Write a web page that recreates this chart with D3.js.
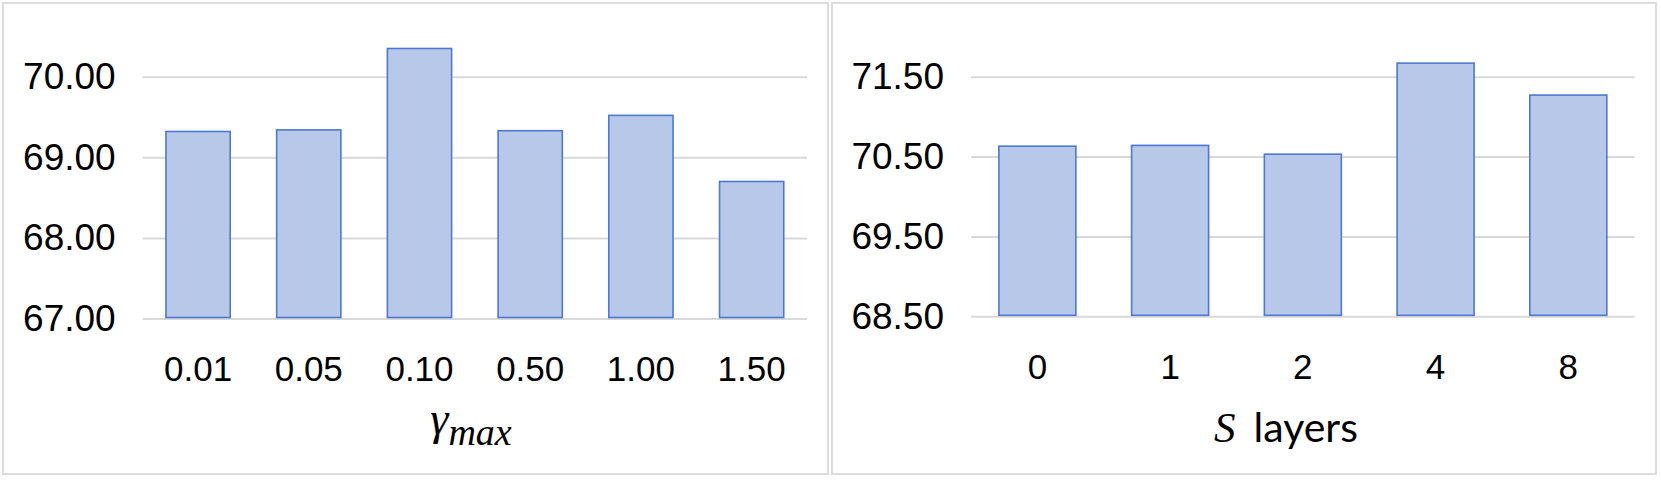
<!DOCTYPE html>
<html>
<head>
<meta charset="utf-8">
<script src="https://cdn.jsdelivr.net/npm/d3@7"></script>
<style>
  html, body { margin: 0; padding: 0; background: #fff; }
  svg { display: block; }
</style>
</head>
<body>
<svg id="chart" width="1661" height="483"></svg>
<script>
// ---- data ----
const gammaCategories = ["0.01", "0.05", "0.10", "0.50", "1.00", "1.50"];
const gammaValues = [69.32, 69.34, 70.35, 69.33, 69.52, 68.70];
const gammaTicks = [67, 68, 69, 70];

const layerCategories = ["0", "1", "2", "4", "8"];
const layerValues = [70.63, 70.64, 70.53, 71.67, 71.27];
const layerTicks = [68.5, 69.5, 70.5, 71.5];

// ---- style ----
const FILL = "#b7c8e9";
const STROKE = "#4d78d5";
const GRID = "#d9d9d9";
const BORDER = "#dcdcdc";
const SANS = "'Liberation Sans', Arial, Helvetica, sans-serif";
const SERIF = "'Liberation Serif', 'DejaVu Serif', serif";

const svg = d3.select("#chart");

function panel(opts) {
  const g = svg.append("g");
  // panel border
  g.append("rect")
    .attr("x", opts.box[0]).attr("y", opts.box[1])
    .attr("width", opts.box[2]).attr("height", opts.box[3])
    .attr("fill", "#fff").attr("stroke", BORDER).attr("stroke-width", 2);

  const x = d3.scaleBand()
    .domain(opts.categories)
    .range([opts.x0, opts.x1])
    .paddingInner(0.42)
    .paddingOuter(0.21);
  const y = d3.scaleLinear()
    .domain(opts.yDomain)
    .range([opts.yBottom, opts.yTop]);

  // y axis with gridlines
  const yAxis = d3.axisLeft(y)
    .tickValues(opts.ticks)
    .tickFormat(d3.format(".2f"))
    .tickSize(-(opts.x1 - opts.x0))
    .tickPadding(27);
  const ya = g.append("g")
    .attr("transform", `translate(${opts.x0},0)`)
    .call(yAxis);
  ya.select(".domain").remove();
  ya.selectAll(".tick line").attr("stroke", GRID).attr("stroke-width", 2);
  ya.selectAll(".tick text")
    .attr("fill", "#000")
    .style("font-family", SANS)
    .style("font-size", "37px");

  // bars
  g.append("g").selectAll("rect")
    .data(opts.values)
    .join("rect")
    .attr("x", (d, i) => x(opts.categories[i]))
    .attr("y", d => y(d))
    .attr("width", x.bandwidth())
    .attr("height", d => y(opts.yDomain[0]) - y(d) - 1)
    .attr("fill", FILL)
    .attr("stroke", STROKE)
    .attr("stroke-width", 1.6);

  // x axis
  const xAxis = d3.axisBottom(x).tickSize(0).tickPadding(38);
  const xa = g.append("g")
    .attr("transform", `translate(0,${opts.yBottom})`)
    .call(xAxis);
  xa.select(".domain").remove();
  xa.selectAll(".tick text")
    .attr("fill", "#000")
    .style("font-family", SANS)
    .style("font-size", "35px");

  return g;
}

const left = panel({
  box: [3, 3, 825, 471],
  categories: gammaCategories, values: gammaValues, ticks: gammaTicks,
  x0: 142.7, x1: 807, yDomain: [67, 70], yBottom: 318.5, yTop: 76.7
});
const right = panel({
  box: [832, 3, 824, 471],
  categories: layerCategories, values: layerValues, ticks: layerTicks,
  x0: 971, x1: 1634.7, yDomain: [68.5, 71.5], yBottom: 316.3, yTop: 76.7
});

// axis titles
const t1 = left.append("text")
  .attr("x", 471).attr("y", 434)
  .attr("text-anchor", "middle")
  .style("font-family", SERIF)
  .style("font-style", "italic")
  .attr("fill", "#000");
t1.append("tspan").style("font-size", "46px").text("γ");
t1.append("tspan").style("font-size", "38px").attr("dy", 11).text("max");

const t2 = right.append("text")
  .attr("x", 1286).attr("y", 441.7)
  .attr("text-anchor", "middle")
  .attr("fill", "#000");
t2.append("tspan")
  .style("font-family", SERIF).style("font-style", "italic")
  .style("font-size", "43px").text("S");
t2.append("tspan")
  .style("font-family", "Lato, 'Open Sans', sans-serif")
  .style("font-size", "41px").attr("dx", 18).text("layers");
</script>
</body>
</html>
